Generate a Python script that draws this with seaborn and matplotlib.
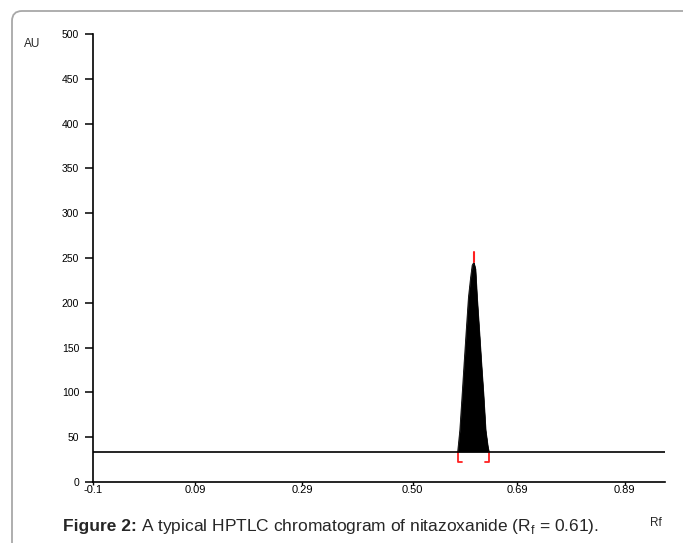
import numpy as np
import pandas as pd
import matplotlib
matplotlib.use("Agg")
import matplotlib.pyplot as plt
import seaborn as sns
from matplotlib.patches import FancyBboxPatch

# peak profile (Rf vs AU)
peak_rf = [0.579, 0.583, 0.587, 0.591, 0.595, 0.599, 0.603, 0.606, 0.609,
           0.612, 0.615, 0.619, 0.623, 0.627, 0.631, 0.635, 0.637]
peak_au = [34, 58, 95, 133, 170, 206, 228, 242, 245,
           238, 206, 170, 133, 98, 58, 40, 34]
baseline_au = 34
peak_top_rf = 0.609
peak_marker = [245, 257]
bracket_rf = [0.579, 0.637]
bracket_au = [34, 22.5]

xtick_pos = [-0.1, 0.09, 0.29, 0.495, 0.69, 0.89]
xtick_labels = ["-0.1", "0.09", "0.29", "0.50", "0.69", "0.89"]
ytick_pos = [0, 50, 100, 150, 200, 250, 300, 350, 400, 450, 500]

sns.set_style("ticks")
plt.rcParams["font.family"] = ["Liberation Sans", "DejaVu Sans"]
plt.rcParams["mathtext.fontset"] = "custom"
plt.rcParams["mathtext.rm"] = "Liberation Sans"

fig = plt.figure(figsize=(6.83, 5.43), dpi=100)
ax = fig.add_axes([93 / 683, 1 - 482 / 543, (665 - 93) / 683, (482 - 34) / 543])

df = pd.DataFrame({"Rf": peak_rf, "AU": peak_au})
ax.fill_between(df["Rf"], baseline_au, df["AU"], color="black", lw=0.5, ec="black")
sns.lineplot(data=df, x="Rf", y="AU", ax=ax, color="black", lw=0.6)
ax.axhline(baseline_au, color="black", lw=1.2, zorder=3)

# red peak marker and integration brackets
ax.plot([peak_top_rf, peak_top_rf], peak_marker, color="#ff2020", lw=1.5)
w = 0.008
for i, r in enumerate(bracket_rf):
    d = w if i == 0 else -w
    ax.plot([r + d, r, r], [bracket_au[1], bracket_au[1], bracket_au[0]],
            color="#ff2020", lw=1.3)

ax.set_xlim(-0.1, 0.965)
ax.set_ylim(0, 500)
ax.set_xticks(xtick_pos)
ax.set_xticklabels(xtick_labels)
ax.set_yticks(ytick_pos)
ax.set_xlabel("")
ax.set_ylabel("")
ax.tick_params(axis="y", length=6, width=1.1, pad=4, labelsize=7.5, colors="black")
ax.tick_params(axis="x", length=2, width=1, pad=0.5, labelsize=8, colors="black")
for s in ["top", "right"]:
    ax.spines[s].set_visible(False)
for s in ["left", "bottom"]:
    ax.spines[s].set_linewidth(1.2)
    ax.spines[s].set_color("black")

fig.text(32 / 683, 1 - 44 / 543, "AU", fontsize=8.5, ha="center", va="center")
fig.text(656 / 683, 1 - 523 / 543, "Rf", fontsize=8.5, ha="center", va="center")

# outer rounded frame
frame = FancyBboxPatch((0.12, -0.5), 7.5, 5.82, boxstyle="round,pad=0,rounding_size=0.1",
                       transform=fig.dpi_scale_trans, fill=False, ec="#a8a8a8", lw=1.3)
fig.patches.append(frame)

# caption
cap_y = 1 - 527 / 543
t1 = fig.text(63 / 683, cap_y, "Figure 2:", fontsize=12.5, fontweight="bold", va="center")
fig.canvas.draw()
bb = t1.get_window_extent()
fig.text(bb.x1 / 683 + 4 / 683, cap_y,
         r"A typical HPTLC chromatogram of nitazoxanide (R$_\mathregular{f}$ = 0.61).",
         fontsize=12.5, va="center")

fig.savefig("out.png", dpi=100)
